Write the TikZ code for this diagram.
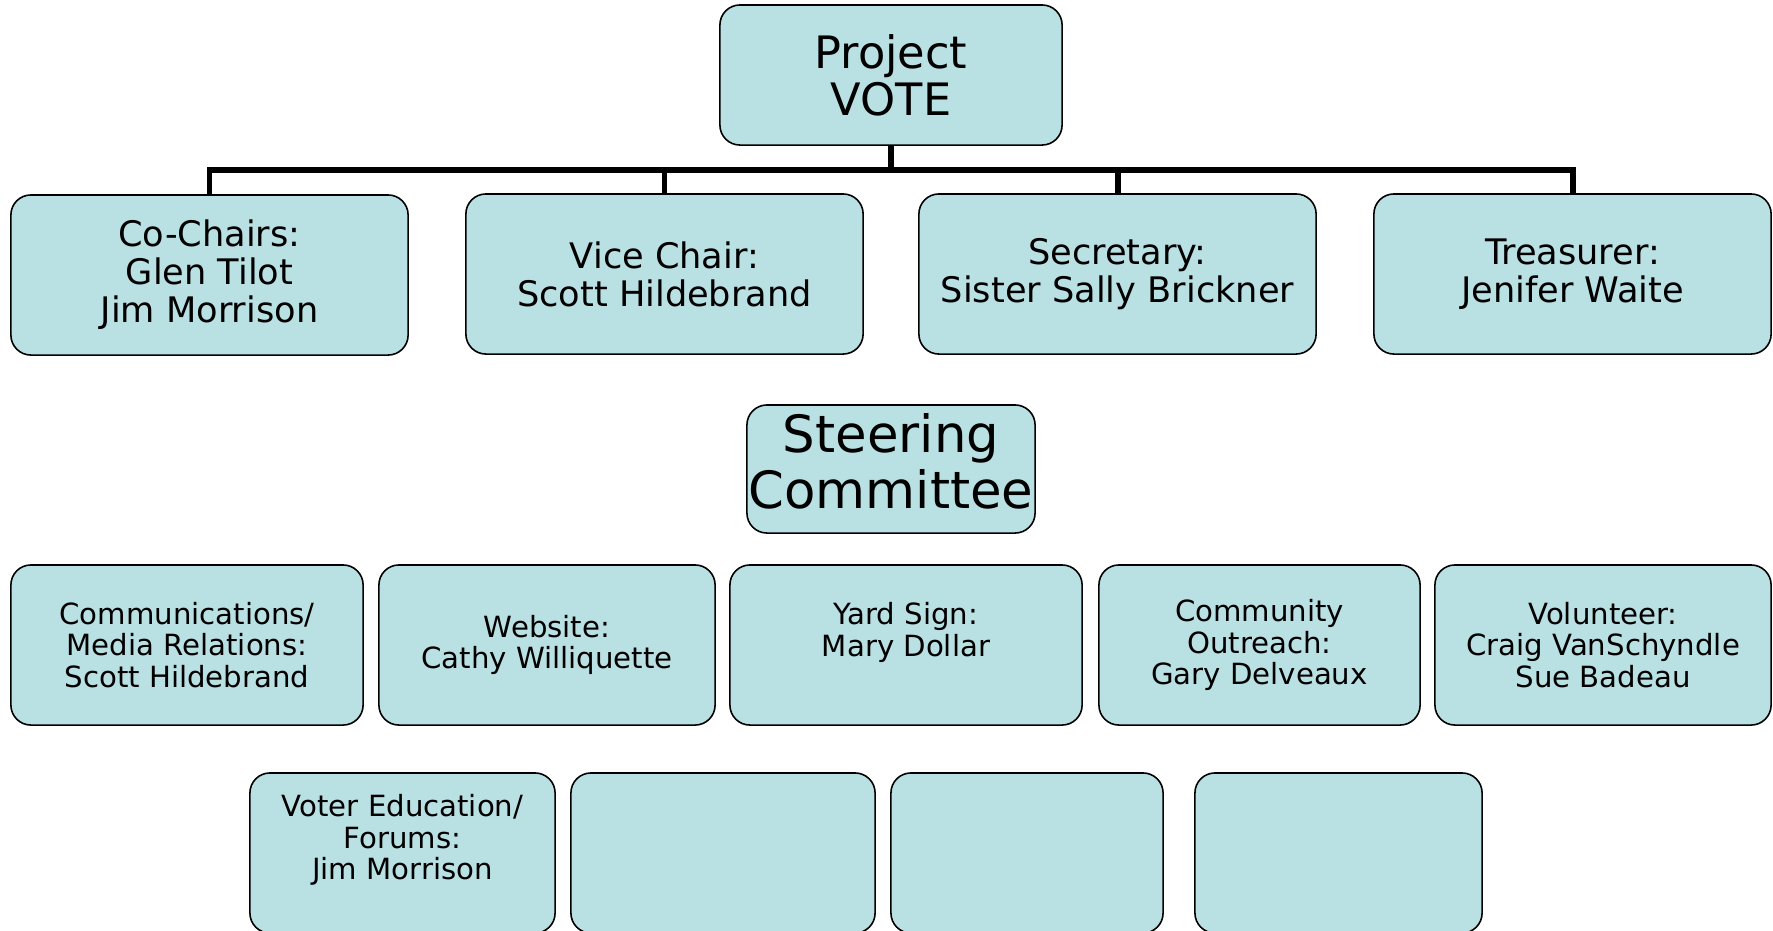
\documentclass[tikz,border=0pt]{standalone}
\usepackage{fontspec}
\setmainfont{DejaVu Sans}
\usepackage{tikz}
\definecolor{boxblue}{RGB}{185,224,227}

\begin{document}
\begin{tikzpicture}[x=0.01cm, y=-0.01cm,
        orgbox/.style={draw=black, line width=0.45pt, fill=boxblue,
            rounded corners=0.2cm, inner sep=0pt, align=center},
        conn/.style={line width=1.7pt, black}]
            \clip (0,0) rectangle (1773,930);

            % top of the chart
            \node[orgbox, minimum width=3.42cm, minimum height=1.40cm,
               font=\fontsize{12.7}{13.4}\selectfont] (vote) at (891,75) {Project\\VOTE};

            \node[orgbox, minimum width=3.97cm, minimum height=1.60cm,
               font=\fontsize{10}{10.8}\selectfont] (cochair) at (209.5,275)
               {Co-Chairs:\\Glen Tilot\\Jim Morrison};
            \node[orgbox, minimum width=3.97cm, minimum height=1.60cm,
               font=\fontsize{10}{10.8}\selectfont] (vice) at (664.5,274)
               {Vice Chair:\\Scott Hildebrand};
            \node[orgbox, minimum width=3.97cm, minimum height=1.60cm,
               font=\fontsize{10}{10.8}\selectfont] (secr) at (1117.5,274)
               {Secretary:\\Sister Sally Brickner};
            \node[orgbox, minimum width=3.97cm, minimum height=1.60cm,
               font=\fontsize{10}{10.8}\selectfont] (treas) at (1572.5,274)
               {Treasurer:\\Jenifer Waite};

            \coordinate (bar) at (891,170);
            \draw[conn] (vote.south) -- (vote.south |- bar);
            \draw[conn] (cochair.north) |- (treas.north |- bar) -- (treas.north);
            \draw[conn] (vice.north) -- (vice.north |- bar);
            \draw[conn] (secr.north) -- (secr.north |- bar);

            % steering committee
            \node[orgbox, minimum width=2.88cm, minimum height=1.28cm] (steer) at (891,469) {};
            \node[inner sep=0pt, align=center, font=\fontsize{14.6}{16}\selectfont]
               (steertxt) at ([yshift=0.08cm]steer.center) {Steering\\Committee};

            \node[orgbox, minimum width=3.52cm, minimum height=1.60cm,
               font=\fontsize{8.3}{9}\selectfont] (comm) at (187,645)
               {Communications/\\Media Relations:\\Scott Hildebrand};
            \node[orgbox, minimum width=3.36cm, minimum height=1.60cm,
               font=\fontsize{8.3}{9}\selectfont] (web) at (547,645)
               {Website:\\Cathy Williquette};
            \node[orgbox, minimum width=3.52cm, minimum height=1.60cm,
               font=\fontsize{8.3}{9}\selectfont] (yard) at (906,645)
               {Yard Sign:\\Mary Dollar\\\mbox{}};
            \node[orgbox, minimum width=3.21cm, minimum height=1.60cm,
               font=\fontsize{8.3}{9}\selectfont] (outreach) at (1259.5,645)
               {Community\\Outreach:\\Gary Delveaux};
            \node[orgbox, minimum width=3.36cm, minimum height=1.60cm,
               font=\fontsize{8.3}{9}\selectfont] (volun) at (1603,645)
               {Volunteer:\\Craig VanSchyndle\\Sue Badeau};

            \node[orgbox, minimum width=3.05cm, minimum height=1.60cm,
               font=\fontsize{8.3}{9}\selectfont] (voted) at (402.5,853)
               {Voter Education/\\Forums:\\Jim Morrison\\\mbox{}};
            \node[orgbox, minimum width=3.04cm, minimum height=1.60cm] (blank1) at (723,853) {};
            \node[orgbox, minimum width=2.72cm, minimum height=1.60cm] (blank2) at (1027,853) {};
            \node[orgbox, minimum width=2.87cm, minimum height=1.60cm] (blank3) at (1338.5,853) {};
        \end{tikzpicture}
\end{document}
